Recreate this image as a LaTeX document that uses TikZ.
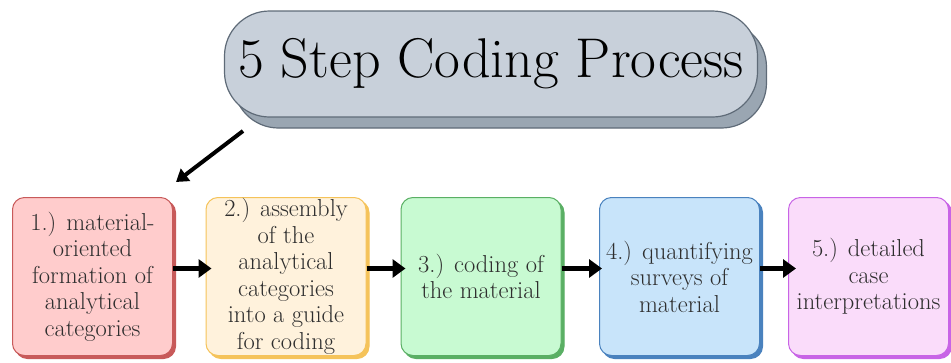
\documentclass[tikz,border=0pt]{standalone}
\usetikzlibrary{arrows.meta,shadows}
\definecolor{tfill}{HTML}{C8D0DA}
\definecolor{tdraw}{HTML}{5F6B78}
\definecolor{tshad}{HTML}{9AA6B2}
\definecolor{rfill}{HTML}{FFCCCC}
\definecolor{rdraw}{HTML}{C85A5A}
\definecolor{yfill}{HTML}{FFF2DC}
\definecolor{ydraw}{HTML}{F5C35A}
\definecolor{gfill}{HTML}{C8FAD2}
\definecolor{gdraw}{HTML}{5AAF64}
\definecolor{bfill}{HTML}{C8E4FA}
\definecolor{bdraw}{HTML}{4A82BE}
\definecolor{mfill}{HTML}{FADCFA}
\definecolor{mdraw}{HTML}{C864E6}
\definecolor{txt}{HTML}{2E2E2E}
\tikzset{
  stepbox/.style n args={2}{draw=#2, fill=#1, line width=1pt, rounded corners=12pt,
    minimum width=160pt, minimum height=158pt, align=center, text=txt,
    font=\fontsize{24.5}{26.5}\selectfont, inner sep=0pt,
    general shadow={shadow xshift=3pt, shadow yshift=-3pt, fill=#2, draw=#2}},
  flow/.style={line width=5pt, -{Triangle[length=13pt,width=18pt]}},
}
\begin{document}
\begin{tikzpicture}[x=1pt,y=-1pt]
\useasboundingbox (0,0) rectangle (951,362);
\node[draw=tdraw, fill=tfill, line width=1.2pt, rounded corners=45pt,
  minimum width=533pt, minimum height=106pt, inner sep=0pt,
  font=\fontsize{56}{60}\selectfont,
  general shadow={shadow xshift=9pt, shadow yshift=-11pt, fill=tshad, draw=tdraw}]
  (title) at (491,64) {5 Step Coding Process};
\node[stepbox={rfill}{rdraw}] (b1) at (92.5,276.5) {1.) material-\\oriented\\formation of\\analytical\\categories};
\node[stepbox={yfill}{ydraw}] (b2) at (286,276.5) {2.) assembly\\of the\\analytical\\categories\\into a guide\\for coding};
\node[stepbox={gfill}{gdraw}] (b3) at (481,276.5) {3.) coding of\\the material};
\node[stepbox={bfill}{bdraw}] (b4) at (679.5,276.5) {4.) quantifying\\surveys of\\material};
\node[stepbox={mfill}{mdraw}] (b5) at (868.5,276.5) {5.) detailed\\case\\interpretations};
\coordinate (ds) at (243,131);
\coordinate (de) at (176,182);
\draw[line width=4pt, -{Triangle[length=12pt,width=15pt]}] (ds) -- (de);
\draw[flow] ([yshift=8pt]b1.east) -- ([xshift=6pt,yshift=8pt]b2.west);
\draw[flow] ([yshift=8pt]b2.east) -- ([xshift=5pt,yshift=8pt]b3.west);
\draw[flow] ([yshift=8pt]b3.east) -- ([xshift=3pt,yshift=8pt]b4.west);
\draw[flow] ([yshift=8pt]b4.east) -- ([xshift=8pt,yshift=8pt]b5.west);
\end{tikzpicture}
\end{document}
